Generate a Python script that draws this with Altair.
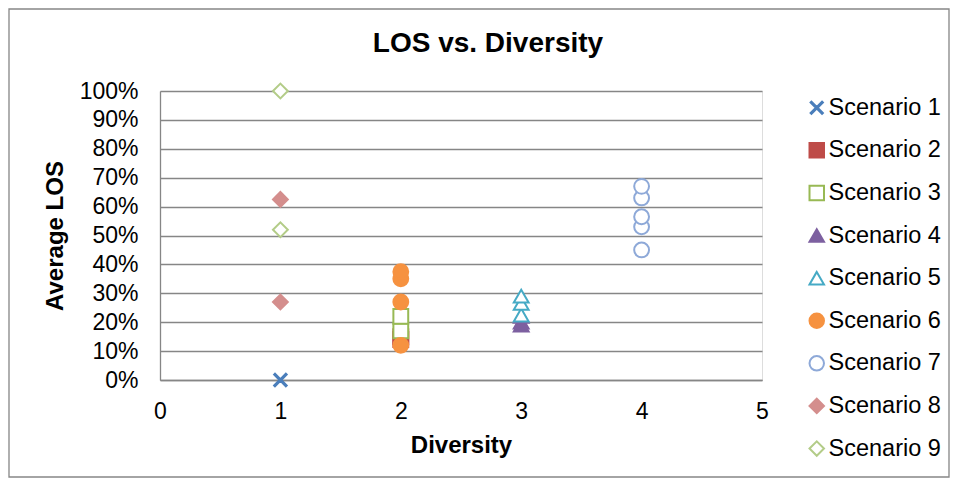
import altair as alt
import pandas as pd

# ---- data ----
series_names = ["Scenario 1", "Scenario 2", "Scenario 3", "Scenario 4", "Scenario 5",
                "Scenario 6", "Scenario 7", "Scenario 8", "Scenario 9"]

s1_div = [1];                 s1_los = [0.0]
s2_div = [2, 2];              s2_los = [0.14, 0.15]
s3_div = [2, 2];              s3_los = [0.17, 0.22]
s4_div = [3, 3, 3];           s4_los = [0.19, 0.20, 0.22]
s5_div = [3, 3, 3];           s5_los = [0.225, 0.265, 0.29]
s6_div = [2, 2, 2, 2];        s6_los = [0.12, 0.27, 0.35, 0.375]
s7_div = [4, 4, 4, 4, 4];     s7_los = [0.45, 0.53, 0.565, 0.63, 0.67]
s8_div = [1, 1];              s8_los = [0.27, 0.625]
s9_div = [1, 1];              s9_los = [0.52, 1.00]

x_ticks = [0, 1, 2, 3, 4, 5]
y_ticks = [0.0, 0.1, 0.2, 0.3, 0.4, 0.5, 0.6, 0.7, 0.8, 0.9, 1.0]

# ---- styles ----
stroke_colors = ["#4A7EBB", "#BE4B48", "#98B954", "#7D60A0", "#46AAC5",
                 "#F69240", "#8EA9D8", "#D48E8D", "#B3CC88"]
fill_colors = ["#4A7EBB", "#BE4B48", "white", "#7D60A0", "white",
               "#F69240", "white", "#D48E8D", "white"]
x_path = ("M-0.85,-0.73L-0.73,-0.85L0,-0.12L0.73,-0.85L0.85,-0.73L0.12,0"
          "L0.85,0.73L0.73,0.85L0,0.12L-0.73,0.85L-0.85,0.73L-0.12,0Z")
shapes = [x_path, "square", "square", "triangle-up", "triangle-up",
          "circle", "circle", "diamond", "diamond"]

divs = [s1_div, s2_div, s3_div, s4_div, s5_div, s6_div, s7_div, s8_div, s9_div]
loss = [s1_los, s2_los, s3_los, s4_los, s5_los, s6_los, s7_los, s8_los, s9_los]
rows = []
for name, dv, lv in zip(series_names, divs, loss):
    for d, l in zip(dv, lv):
        rows.append({"Series": name, "Diversity": d, "LOS": l})
df = pd.DataFrame(rows)

FONT = "Liberation Sans"
GRID = "#868686"
W, H = 602, 289

legend = alt.Legend(
    title=None, orient="none", legendX=645, legendY=5, columns=1,
    labelFontSize=23.5, labelFont=FONT, labelColor="black",
    symbolSize=210, symbolStrokeWidth=2, rowPadding=17.6, labelOffset=0,
)

points = alt.Chart(df).mark_point(
    filled=False, opacity=1, size=220, strokeWidth=2
).encode(
    x=alt.X("Diversity:Q",
            scale=alt.Scale(domain=[0, 5], nice=False, zero=False),
            axis=alt.Axis(values=x_ticks, grid=False, ticks=False, title="Diversity",
                          labelFontSize=23, labelFont=FONT, labelColor="black",
                          labelPadding=20, labelFlush=False,
                          titleFontSize=24, titleFont=FONT,
                          titleFontWeight="bold", titleColor="black", titlePadding=10,
                          domainColor=GRID, domainWidth=1.3)),
    y=alt.Y("LOS:Q",
            scale=alt.Scale(domain=[0, 1], nice=False),
            axis=alt.Axis(values=y_ticks, format=".0%", grid=True, gridColor=GRID,
                          gridWidth=1.3, ticks=False, title="Average LOS",
                          labelFontSize=23, labelFont=FONT, labelColor="black",
                          labelPadding=22, labelFlush=False,
                          titleFontSize=24, titleFont=FONT,
                          titleFontWeight="bold", titleColor="black", titlePadding=12,
                          domainColor=GRID, domainWidth=1.3)),
    color=alt.Color("Series:N", scale=alt.Scale(domain=series_names, range=stroke_colors),
                    legend=legend),
    fill=alt.Fill("Series:N", scale=alt.Scale(domain=series_names, range=fill_colors),
                  legend=legend),
    shape=alt.Shape("Series:N", scale=alt.Scale(domain=series_names, range=shapes),
                    legend=legend),
    order=alt.Order("Series:N"),
)

frame = alt.Chart(alt.Data(values=[{"a": 1}])).mark_rect(
    fill="transparent", stroke=GRID, strokeWidth=1.3
).encode(
    x=alt.value(-151), x2=alt.value(789), y=alt.value(-82), y2=alt.value(386)
)

chart = alt.layer(frame, points).properties(
    width=W, height=H,
    autosize=alt.AutoSizeParams(type="none"),
    padding={"left": 152, "top": 83, "right": 188, "bottom": 98},
    title=alt.TitleParams("LOS vs. Diversity", font=FONT, fontSize=28, fontWeight="bold",
                          color="black", anchor="middle", frame="group", dx=27,
                          baseline="alphabetic", offset=-72),
).configure_view(stroke=None).configure(background="white")

chart.save("out.html", embed_options={"renderer": "svg", "actions": False})
